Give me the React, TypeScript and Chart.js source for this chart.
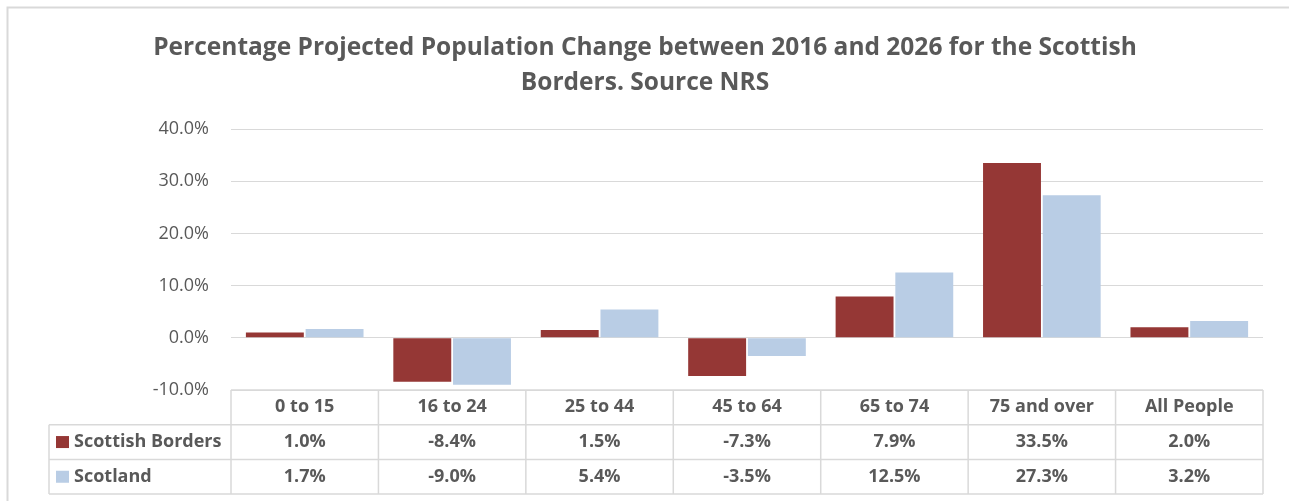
import React, { useEffect, useRef } from "react";
import { Chart, registerables } from "chart.js";

Chart.register(...registerables);

const titleLines = [
  "Percentage Projected Population Change between 2016 and 2026 for the Scottish",
  "Borders. Source NRS",
];
const categories = ["0 to 15", "16 to 24", "25 to 44", "45 to 64", "65 to 74", "75 and over", "All People"];
const seriesNames = ["Scottish Borders", "Scotland"];
const bordersValues = [1.0, -8.4, 1.5, -7.3, 7.9, 33.5, 2.0];
const scotlandValues = [1.7, -9.0, 5.4, -3.5, 12.5, 27.3, 3.2];
const seriesColors = ["#953735", "#B9CDE5"];
const yMin = -10;
const yMax = 40;
const yStep = 10;

const TEXT = "#595959";
const LINE = "#D9D9D9";
const FONT = "'Open Sans', 'Noto Sans', sans-serif";

const decorPlugin = {
  id: "decor",
  beforeDraw(chart: any) {
    const ctx = chart.ctx;
    ctx.save();
    ctx.fillStyle = "#ffffff";
    ctx.fillRect(0, 0, chart.width, chart.height);
    // outer chart border
    ctx.strokeStyle = LINE;
    ctx.lineWidth = 2;
    ctx.beginPath();
    ctx.moveTo(7.5, chart.height + 2);
    ctx.lineTo(7.5, 7.5);
    ctx.lineTo(chart.width + 2, 7.5);
    ctx.stroke();
    // title
    ctx.fillStyle = TEXT;
    ctx.font = `bold 24.5px ${FONT}`;
    ctx.textAlign = "center";
    ctx.textBaseline = "middle";
    titleLines.forEach((t, i) => ctx.fillText(t, 645, 48 + i * 35));
    ctx.restore();
  },
  afterDraw(chart: any) {
    const ctx = chart.ctx;
    const area = chart.chartArea;
    const x = chart.scales.x;
    const n = categories.length;
    const colW = (area.right - area.left) / n;
    const top = area.bottom;
    const rowH = 34.7;
    const labelLeft = 49;
    const rows = [top, top + rowH, top + 2 * rowH, top + 3 * rowH];
    ctx.save();
    ctx.strokeStyle = LINE;
    ctx.lineWidth = 1.5;
    ctx.beginPath();
    ctx.moveTo(area.left, rows[0]);
    ctx.lineTo(area.right, rows[0]);
    for (let r = 1; r < rows.length; r++) {
      ctx.moveTo(labelLeft, rows[r]);
      ctx.lineTo(area.right, rows[r]);
    }
    for (let i = 0; i <= n; i++) {
      const cx = area.left + i * colW;
      ctx.moveTo(cx, rows[0]);
      ctx.lineTo(cx, rows[3]);
    }
    ctx.moveTo(labelLeft, rows[1]);
    ctx.lineTo(labelLeft, rows[3]);
    ctx.stroke();

    ctx.fillStyle = TEXT;
    ctx.font = `bold 18px ${FONT}`;
    ctx.textBaseline = "middle";
    ctx.textAlign = "center";
    categories.forEach((c, i) => {
      const cx = x.getPixelForValue(i);
      ctx.fillText(c, cx, rows[0] + rowH / 2);
    });
    const series = [bordersValues, scotlandValues];
    series.forEach((vals, s) => {
      const cy = rows[s + 1] + rowH / 2;
      vals.forEach((v, i) => {
        const cx = x.getPixelForValue(i);
        ctx.fillStyle = TEXT;
        ctx.textAlign = "center";
        ctx.fillText(v.toFixed(1) + "%", cx, cy);
      });
      ctx.fillStyle = seriesColors[s];
      ctx.fillRect(56, cy - 6, 13, 12);
      ctx.fillStyle = TEXT;
      ctx.textAlign = "left";
      ctx.fillText(seriesNames[s], 74, cy);
    });
    ctx.restore();
  },
};

export default function App() {
  const ref = useRef<HTMLCanvasElement | null>(null);
  useEffect(() => {
    if (!ref.current) return;
    const chart = new Chart(ref.current, {
      type: "bar",
      data: {
        labels: categories,
        datasets: [
          {
            label: seriesNames[0],
            data: bordersValues,
            backgroundColor: seriesColors[0],
            categoryPercentage: 0.81,
            barPercentage: 0.97,
          },
          {
            label: seriesNames[1],
            data: scotlandValues,
            backgroundColor: seriesColors[1],
            categoryPercentage: 0.81,
            barPercentage: 0.97,
          },
        ],
      },
      options: {
        animation: false,
        responsive: false,
        maintainAspectRatio: false,
        layout: { padding: { left: 0, right: 26, top: 129, bottom: 111 } },
        plugins: {
          legend: { display: false },
          title: { display: false },
          tooltip: { enabled: false },
        },
        scales: {
          x: { display: false },
          y: {
            min: yMin,
            max: yMax,
            afterFit: (scale: any) => {
              scale.width = 231;
            },
            border: { display: false },
            grid: { color: LINE, lineWidth: 1, drawTicks: false },
            ticks: {
              stepSize: yStep,
              padding: 22,
              color: TEXT,
              font: { family: FONT, size: 18 },
              callback: (v: any) => Number(v).toFixed(1) + "%",
            },
          },
        },
      },
      plugins: [decorPlugin],
    });
    return () => chart.destroy();
  }, []);
  return (
    <div style={{ position: "absolute", left: 0, top: 0, width: 1289, height: 501 }}>
      <canvas ref={ref} width={1289} height={501} style={{ width: 1289, height: 501 }} />
    </div>
  );
}
